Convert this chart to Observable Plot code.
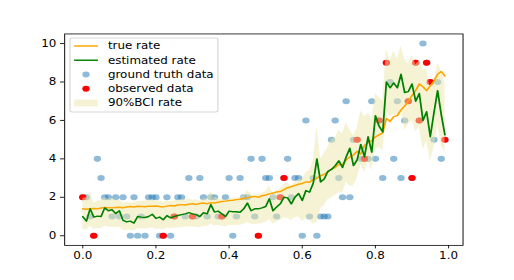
<!DOCTYPE html>
<html>
<head>
<meta charset="utf-8">
<script src="https://cdn.jsdelivr.net/npm/d3@7"></script>
<script src="https://cdn.jsdelivr.net/npm/@observablehq/plot@0.6"></script>
<style>
  html, body { margin: 0; padding: 0; background: #fff; }
  #chart { width: 514px; height: 280px; overflow: hidden; }
</style>
</head>
<body>
<div id="chart"></div>
<script>
// ---- data ----
const groundTruth = [
  2,2,1,0,4,3,2,2,1,2,
  1,2,1,0,2,0,1,0,2,2,
  2,0,0,2,0,1,2,2,1,3,
  1,1,3,2,1,2,2,1,1,2,
  3,0,1,3,2,2,4,1,0,4,
  3,3,2,1,2,3,4,2,3,3,
  0,6,1,3,0,1,1,1,5,6,
  3,2,7,2,5,5,4,4,4,7,
  4,6,3,9,8,4,7,3,6,7,
  3,9,6,10,9,8,5,8,4,5
];
const observedIndex = [0,3,22,25,30,38,48,54,55,75,77,81,83,89,90,91,92,94,95,99];
const observedValue = [2,0,0,1,1,1,0,2,3,5,4,6,9,7,3,9,6,9,8,5];
const trueRate = [
  1.40,1.38,1.40,1.42,1.40,1.44,1.47,1.46,1.45,1.47,
  1.48,1.46,1.50,1.52,1.50,1.53,1.52,1.51,1.54,1.53,
  1.55,1.52,1.50,1.54,1.57,1.55,1.60,1.62,1.60,1.64,
  1.66,1.63,1.68,1.70,1.66,1.72,1.70,1.74,1.78,1.80,
  1.83,1.85,1.88,1.90,1.95,1.97,2.02,2.05,2.00,2.08,
  2.12,2.18,2.22,2.28,2.30,2.40,2.50,2.55,2.62,2.68,
  2.72,2.80,2.78,2.92,3.00,3.12,3.20,3.30,3.48,3.55,
  3.72,3.70,3.95,4.10,4.20,4.40,4.25,4.70,4.85,4.95,
  5.15,5.25,5.35,6.10,5.95,6.20,6.25,6.55,6.75,7.00,
  7.30,7.55,7.90,7.75,7.55,7.80,8.05,8.40,8.55,8.30
];
const estimatedRate = [
  1.00,0.76,1.40,0.97,1.02,1.00,1.45,1.30,1.35,1.15,
  1.30,0.80,0.72,0.76,0.66,1.00,0.97,0.95,1.00,1.12,
  0.90,0.97,0.83,1.05,0.93,1.00,1.05,1.10,1.14,1.20,
  1.14,1.10,1.00,1.20,1.14,1.62,1.23,1.28,1.14,1.00,
  1.28,1.25,1.25,1.22,1.40,1.70,1.30,1.40,1.40,1.45,
  1.52,1.92,1.30,1.50,1.66,2.00,1.97,1.66,2.00,2.20,
  1.83,2.35,2.27,2.73,4.00,2.80,2.95,3.35,3.45,3.65,
  3.90,3.55,4.10,4.55,3.65,3.95,4.75,4.10,5.15,4.35,
  6.25,5.70,5.40,8.00,7.70,7.95,7.70,8.40,7.45,7.50,
  7.90,7.00,7.40,6.00,6.45,5.15,6.40,7.55,6.30,5.25
];
const bciLow = [
  0.35,0.30,0.50,0.35,0.38,0.38,0.50,0.45,0.45,0.42,
  0.45,0.30,0.28,0.30,0.27,0.38,0.36,0.36,0.38,0.42,
  0.35,0.36,0.32,0.40,0.38,0.40,0.42,0.44,0.45,0.48,
  0.46,0.45,0.42,0.50,0.48,0.62,0.52,0.54,0.50,0.46,
  0.55,0.54,0.55,0.55,0.60,0.70,0.62,0.58,0.62,0.65,
  0.70,0.85,0.62,0.72,0.80,0.95,0.90,0.80,0.95,1.00,
  0.75,0.90,0.80,0.60,0.70,1.40,1.60,1.90,2.00,2.10,
  2.30,2.20,2.80,2.60,2.60,3.00,3.70,3.30,3.90,3.40,
  4.50,4.60,4.40,6.40,6.20,6.30,6.20,6.60,5.50,5.80,
  6.00,5.40,5.70,4.50,4.90,3.90,4.60,5.80,4.70,4.30
];
const bciHigh = [
  1.95,2.00,2.30,1.70,1.80,1.85,2.00,1.90,1.95,1.85,
  1.90,1.70,1.75,1.70,1.72,1.80,1.78,1.82,1.85,1.90,
  1.80,1.82,1.75,1.80,1.78,1.82,1.85,1.90,1.88,1.92,
  1.85,1.88,1.80,1.92,1.95,2.30,2.00,1.95,1.90,1.85,
  1.95,1.95,2.00,2.00,2.10,2.35,2.20,2.10,2.15,2.20,
  2.30,2.60,2.20,2.35,2.45,2.70,2.75,2.60,2.80,2.95,
  2.90,3.30,3.40,3.90,5.70,4.00,4.30,4.60,5.00,5.10,
  5.50,5.30,5.90,5.50,5.20,5.60,6.50,6.20,6.40,6.00,
  7.40,7.20,7.00,9.70,9.10,9.60,9.20,9.85,9.20,8.95,
  9.40,8.90,9.10,8.60,8.70,7.60,8.00,9.00,8.60,7.90
];
const xTickValues = [0, 0.2, 0.4, 0.6, 0.8, 1.0];
const yTickValues = [0, 2, 4, 6, 8, 10];
const legendLabels = ["true rate", "estimated rate", "ground truth data", "observed data", "90%BCI rate"];

// ---- tables for the library ----
const xs = d3.range(groundTruth.length).map(i => i / 100);
const gtData = groundTruth.map((v, i) => ({x: xs[i], y: v}));
const obsData = observedIndex.map((k, i) => ({x: xs[k], y: observedValue[i]}));
const trueData = trueRate.map((v, i) => ({x: xs[i], y: v}));
const estData = estimatedRate.map((v, i) => ({x: xs[i], y: v}));
const bandData = bciLow.map((v, i) => ({x: xs[i], lo: v, hi: bciHigh[i]}));

const W = 600, H = 400;
const plot = Plot.plot({
  width: W, height: H,
  marginLeft: 75, marginRight: 60, marginTop: 48, marginBottom: 50,
  x: {domain: [-0.0495, 1.0395]},
  y: {domain: [-0.5, 10.5]},
  style: {fontFamily: "DejaVu Sans", fontSize: "13.9px", background: "white", color: "black", overflow: "visible"},
  marks: [
    Plot.dot(gtData, {x: "x", y: "y", r: 4.3, fill: "#1f77b4", fillOpacity: 0.5}),
    Plot.dot(obsData, {x: "x", y: "y", r: 4.3, fill: "red"}),
    Plot.areaY(bandData, {x: "x", y1: "lo", y2: "hi", fill: "palegoldenrod", fillOpacity: 0.5}),
    Plot.line(trueData, {x: "x", y: "y", stroke: "orange", strokeWidth: 2.08}),
    Plot.line(estData, {x: "x", y: "y", stroke: "green", strokeWidth: 2.08}),
    Plot.frame({stroke: "black", strokeWidth: 1.11}),
    Plot.axisX({ticks: xTickValues, tickFormat: d3.format(".1f"), tickSize: 4.86, tickPadding: 4.86, strokeWidth: 1.11, label: null}),
    Plot.axisY({ticks: yTickValues, tickFormat: d3.format("d"), tickSize: 4.86, tickPadding: 4.86, strokeWidth: 1.11, label: null})
  ]
});

// stretch the 600x400 drawing into the 514x280 picture
plot.setAttribute("width", 514);
plot.setAttribute("height", 280);
plot.setAttribute("preserveAspectRatio", "none");
plot.style.width = "514px";
plot.style.height = "280px";
plot.style.maxWidth = "none";

// legend (matplotlib-style, upper left)
const svg = d3.select(plot);
const lg = svg.append("g")
  .attr("font-family", "DejaVu Sans").attr("font-size", "13.9px")
  .attr("text-anchor", "start").style("text-anchor", "start");
lg.append("rect")
  .attr("x", 81.7).attr("y", 54.3).attr("width", 172.7).attr("height", 105.7)
  .attr("rx", 2.8).attr("ry", 2.8)
  .attr("fill", "white").attr("fill-opacity", 0.8)
  .attr("stroke", "#cccccc").attr("stroke-opacity", 0.8).attr("stroke-width", 1.39);
const rowY = i => 65.7 + i * 20.36;
const hx0 = 86.5, hx1 = 114.3, hxc = (hx0 + hx1) / 2;
lg.append("line").attr("x1", hx0).attr("x2", hx1).attr("y1", rowY(0)).attr("y2", rowY(0))
  .attr("stroke", "orange").attr("stroke-width", 2.08);
lg.append("line").attr("x1", hx0).attr("x2", hx1).attr("y1", rowY(1)).attr("y2", rowY(1))
  .attr("stroke", "green").attr("stroke-width", 2.08);
lg.append("circle").attr("cx", hxc).attr("cy", rowY(2)).attr("r", 4.3)
  .attr("fill", "#1f77b4").attr("fill-opacity", 0.5);
lg.append("circle").attr("cx", hxc).attr("cy", rowY(3)).attr("r", 4.3).attr("fill", "red");
lg.append("rect").attr("x", hx0).attr("y", rowY(4) - 4.86).attr("width", hx1 - hx0).attr("height", 9.72)
  .attr("fill", "palegoldenrod").attr("fill-opacity", 0.5);
legendLabels.forEach((t, i) => {
  lg.append("text").attr("x", 126).attr("y", rowY(i)).attr("dy", "0.36em")
    .attr("fill", "black").style("text-anchor", "start").text(t);
});

document.getElementById("chart").appendChild(plot);
</script>
</body>
</html>
